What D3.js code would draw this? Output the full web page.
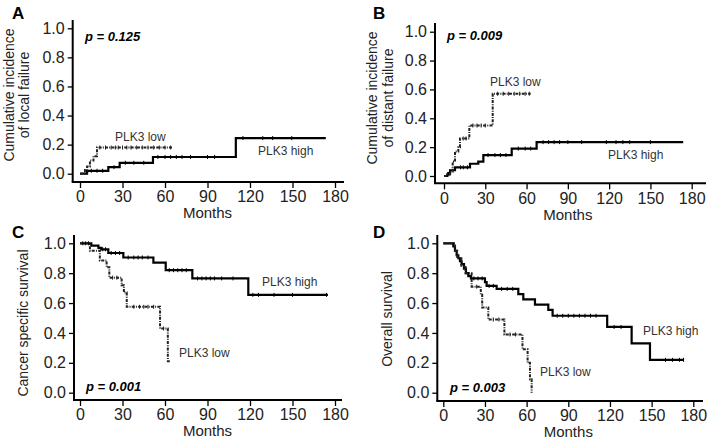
<!DOCTYPE html>
<html><head><meta charset="utf-8">
<script src="https://cdn.jsdelivr.net/npm/d3@7"></script>
<style>
html,body{margin:0;padding:0;background:#fff;}
svg{display:block;}
text{font-family:"Liberation Sans",Arial,sans-serif;}
</style></head>
<body>
<script>
// ---------- DATA ----------
const xTicks = [0, 30, 60, 90, 120, 150, 180];
const yTicks = [0.0, 0.2, 0.4, 0.6, 0.8, 1.0];
const seriesNames = ["PLK3 high", "PLK3 low"];
const panelLetters = ["A", "B", "C", "D"];
const yTitles = [["Cumulative  incidence", "of local failure"], ["Cumulative  incidence", "of distant failure"], ["Cancer specific survival"], ["Overall survival"]];
const pValues = ["p = 0.125", "p = 0.009", "p = 0.001", "p = 0.003"];

// step points [month, value]
const aHigh = [[0,0],[5,0.02],[20,0.045],[28,0.075],[51.5,0.115],[110,0.245],[173.5,0.245]];
const aLow  = [[0,0],[3.5,0.025],[5,0.05],[7,0.09],[9.5,0.12],[12,0.18],[65,0.18]];
const bHigh = [[0,0],[2.4,0.01],[3.1,0.02],[4.4,0.04],[8,0.06],[18.9,0.085],[24.9,0.1],[28.6,0.145],[49.2,0.19],[67.3,0.235],[173.8,0.235]];
const bLow  = [[0,0],[2.4,0.01],[4.4,0.03],[6.3,0.1],[8,0.17],[10.4,0.2],[11.6,0.26],[18.4,0.35],[35.4,0.57],[63,0.57]];
const cHigh = [[0,1],[8,0.985],[13,0.97],[15,0.96],[20,0.935],[30.6,0.905],[51.8,0.87],[60.5,0.82],[79.3,0.765],[118.8,0.655],[175,0.655]];
const cLow  = [[0,1],[7,0.95],[14,0.885],[18.8,0.84],[20.7,0.77],[29.4,0.72],[31,0.67],[33,0.575],[56.5,0.43],[62,0.21],[64,0.21]];
const dHigh = [[0,1],[7.2,0.98],[8.4,0.95],[9.6,0.92],[10.8,0.9],[12,0.88],[13.2,0.86],[14.9,0.83],[16.3,0.8],[18,0.78],[19.9,0.765],[30,0.74],[31.2,0.715],[38.4,0.695],[54,0.66],[57.6,0.625],[66,0.59],[75.6,0.555],[78.7,0.515],[118,0.44],[135.6,0.33],[148.8,0.22],[173.3,0.22]];
const dLow  = [[0,1],[8.4,0.95],[10,0.9],[13,0.85],[16,0.8],[20.4,0.71],[27,0.655],[28,0.57],[32.4,0.49],[44,0.39],[57,0.29],[60.7,0.2],[62.4,0.09],[63.6,0.0]];

// censor times
const aHighCens = [8,12,16,24,32,38,45,55,60,64,68,72,78,90,95,115,129,136,149.5];
const aLowCens  = [14,18,22,25,27,30,33,36,40,44,48,52,56,60,64];
const bHighCens = [12,14,17,32,37,41,45,54,59,63,72,76,80,84,90,100,118,125,130,135,150];
const bLowCens  = [14,16,21,24,27,30,39,43,47,51,55,59,62];
const cHighCens = [2,4,6,16,18,22,25,28,34,38,41,44,48,63,66,69,72,75,83,86,89,92,95,100,108,122,126,137,150,174];
const cLowCens  = [23,26,38,42,45,48,52,59];
const dHighCens = [22,25,28,33,36,42,46,50,82,86,90,94,98,102,106,110,123,128,160,165,170,173];
const dLowCens  = [24,36,40,48,52];

// ---------- LAYOUT ----------
const W = 709, H = 444;
const panels = [
  {high:aHigh, low:aLow, hc:aHighCens, lc:aLowCens, x0:80, x1:335, y0:173.7, y1:28.3, ax:72.7, ay:182, top:20, right:344,
   letter:[12,19], yt:[[9,95],[24,95]], p:[85,36], hiLab:[258,151], loLab:[115,137]},
  {high:bHigh, low:bLow, hc:bHighCens, lc:bLowCens, x0:444, x1:691.7, y0:176, y1:31.7, ax:435, ay:183.3, top:23, right:706,
   letter:[373,19], yt:[[372,98],[388,98]], p:[447,35], hiLab:[608,155], loLab:[490,82]},
  {high:cHigh, low:cLow, hc:cHighCens, lc:cLowCens, x0:80, x1:335, y0:392.7, y1:243.3, ax:74, ay:400, top:235, right:342,
   letter:[12,238], yt:[[23,323]], p:[86,386], hiLab:[262,282], loLab:[179,353]},
  {high:dHigh, low:dLow, hc:dHighCens, lc:dLowCens, x0:443.3, x1:693.3, y0:392.7, y1:243.3, ax:437.3, ay:401, top:235, right:703,
   letter:[373,238], yt:[[387,319]], p:[450,387], hiLab:[643,331], loLab:[540,372]}
];

const svg = d3.select("body").append("svg").attr("width", W).attr("height", H);

panels.forEach((P, i) => {
  const g = svg.append("g");
  const x = d3.scaleLinear().domain([0, 180]).range([P.x0, P.x1]);
  const y = d3.scaleLinear().domain([0, 1]).range([P.y0, P.y1]);

  // L frame
  g.append("line").attr("x1", P.ax).attr("x2", P.ax).attr("y1", P.top).attr("y2", P.ay)
    .attr("stroke", "#000").attr("stroke-width", 2);
  g.append("line").attr("x1", P.ax - 1).attr("x2", P.right).attr("y1", P.ay).attr("y2", P.ay)
    .attr("stroke", "#000").attr("stroke-width", 2);

  // axes (ticks + labels)
  const xa = g.append("g").attr("transform", `translate(0,${P.ay})`)
    .call(d3.axisBottom(x).tickValues(xTicks).tickSize(6).tickPadding(3).tickFormat(d3.format("d")));
  xa.select(".domain").remove();
  xa.selectAll("line").attr("stroke", "#000").attr("stroke-width", 1.3);
  xa.selectAll("text").attr("font-size", 16).attr("fill", "#222").attr("font-family", "Liberation Sans, Arial");

  const ya = g.append("g").attr("transform", `translate(${P.ax},0)`)
    .call(d3.axisLeft(y).tickValues(yTicks).tickSize(5).tickPadding(3).tickFormat(d3.format(".1f")));
  ya.select(".domain").remove();
  ya.selectAll("line").attr("stroke", "#000").attr("stroke-width", 1.3);
  ya.selectAll("text").attr("font-size", 16).attr("fill", "#222").attr("font-family", "Liberation Sans, Arial");

  // Months
  g.append("text").attr("x", (P.x0 + P.x1) / 2).attr("y", P.ay + 31).attr("dy", "0.35em")
    .attr("text-anchor", "middle").attr("font-size", 15).attr("fill", "#222").text("Months");

  // y title
  yTitles[i].forEach((t, k) => {
    const [tx, ty] = P.yt[k];
    g.append("text").attr("transform", `translate(${tx},${ty}) rotate(-90)`).attr("dy", "0.35em")
      .attr("text-anchor", "middle").attr("font-size", 14).attr("fill", "#222").text(t);
  });

  // letter
  g.append("text").attr("x", P.letter[0]).attr("y", P.letter[1]).attr("font-size", 17)
    .attr("font-weight", "bold").attr("fill", "#000").text(panelLetters[i]);

  // p value
  g.append("text").attr("x", P.p[0]).attr("y", P.p[1]).attr("dy", "0.35em").attr("font-size", 13)
    .attr("font-weight", "bold").attr("font-style", "italic").attr("fill", "#000").text(pValues[i]);

  // curves
  const line = d3.line().x(d => x(d[0])).y(d => y(d[1])).curve(d3.curveStepAfter);
  g.append("path").datum(P.high).attr("d", line).attr("fill", "none").attr("stroke", "#000").attr("stroke-width", 2.2);
  g.append("path").datum(P.low).attr("d", line).attr("fill", "none").attr("stroke", "#222")
    .attr("stroke-width", 2).attr("stroke-dasharray", "3,1.2,1,1.2");

  // censor marks
  const valAt = (pts, t) => { let v = pts[0][1]; for (const p of pts) { if (p[0] <= t) v = p[1]; } return v; };
  [[P.high, P.hc, "#000"], [P.low, P.lc, "#222"]].forEach(([pts, cens, col]) => {
    g.selectAll(null).data(cens).enter().append("line")
      .attr("x1", d => x(d)).attr("x2", d => x(d))
      .attr("y1", d => y(valAt(pts, d)) - 2).attr("y2", d => y(valAt(pts, d)) + 2)
      .attr("stroke", col).attr("stroke-width", 1);
  });

  // series labels
  g.append("text").attr("x", P.hiLab[0]).attr("y", P.hiLab[1]).attr("dy", "0.35em").attr("font-size", 12)
    .attr("fill", "#333").text(seriesNames[0]);
  g.append("text").attr("x", P.loLab[0]).attr("y", P.loLab[1]).attr("dy", "0.35em").attr("font-size", 12)
    .attr("fill", "#333").text(seriesNames[1]);
});
</script>
</body></html>
